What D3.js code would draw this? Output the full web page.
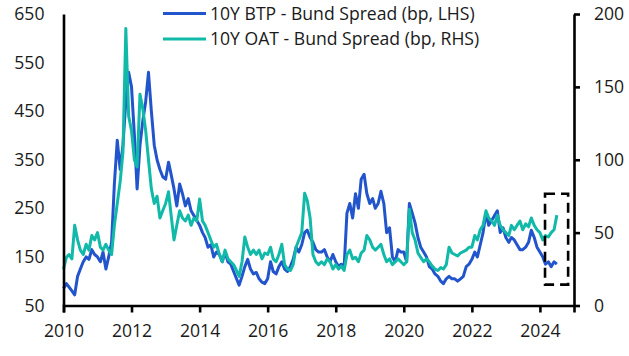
<!DOCTYPE html>
<html>
<head>
<meta charset="utf-8">
<script src="https://cdn.jsdelivr.net/npm/d3@7"></script>
<style>
  html, body { margin: 0; padding: 0; background: #fff; }
  svg { display: block; font-family: "Segoe UI", "Open Sans", "Noto Sans", sans-serif; }
</style>
</head>
<body>
<svg id="chart" width="629" height="356"></svg>
<script>
// Monthly observations, Jan 2010 .. Jul 2024
const startMonth = "2010-01";
const endMonth = "2024-07";

// 10Y BTP - Bund spread (bp), left axis
const btpSpread = [
  85, 95, 88, 80, 72, 110, 125, 140, 150, 145, 165, 155,      // 2010
  150, 140, 160, 125, 150, 180, 300, 390, 330, 380, 470, 530, // 2011
  500, 400, 290, 380, 430, 470, 530, 450, 380, 350, 330, 315, // 2012
  310, 345, 320, 290, 255, 300, 280, 255, 270, 245, 235, 225, // 2013
  215, 200, 190, 170, 175, 150, 160, 155, 140, 160, 140, 135, // 2014
  120, 105, 92, 110, 130, 145, 125, 115, 118, 105, 98, 95,    // 2015
  105, 140, 120, 115, 130, 140, 125, 120, 130, 145, 170, 160, // 2016
  175, 200, 205, 190, 180, 165, 160, 160, 165, 150, 140, 155, // 2017
  140, 130, 135, 130, 240, 260, 230, 280, 250, 310, 320, 280, // 2018
  260, 270, 250, 260, 285, 260, 200, 210, 150, 140, 165, 160, // 2019
  160, 140, 260, 240, 220, 190, 170, 160, 150, 130, 125, 115, // 2020
  110, 100, 95, 105, 110, 105, 105, 100, 105, 110, 130, 135,  // 2021
  145, 160, 150, 175, 200, 240, 215, 225, 235, 245, 200, 210, // 2022
  190, 180, 190, 185, 175, 165, 165, 170, 180, 205, 190, 170, // 2023
  160, 150, 135, 140, 130, 140, 135                           // 2024
];

// 10Y OAT - Bund spread (bp), right axis
const oatSpread = [
  25, 33, 35, 32, 55, 45, 38, 35, 42, 38, 48, 45,    // 2010
  50, 40, 38, 42, 38, 35, 55, 70, 85, 105, 190, 130, // 2011
  120, 100, 95, 145, 135, 120, 100, 80, 70, 75, 60, 65, // 2012
  70, 78, 62, 45, 55, 65, 60, 58, 62, 55, 60, 58,    // 2013
  73, 58, 55, 50, 45, 40, 42, 35, 30, 38, 32, 30,    // 2014
  28, 24, 20, 30, 47, 40, 35, 38, 35, 38, 32, 36,    // 2015
  35, 40, 32, 30, 35, 42, 28, 25, 24, 28, 40, 45,    // 2016
  50, 77, 72, 60, 35, 30, 28, 30, 28, 32, 30, 25,    // 2017
  28, 25, 27, 24, 35, 38, 32, 33, 30, 36, 38, 48,    // 2018
  45, 40, 38, 40, 42, 35, 30, 32, 28, 30, 32, 30,    // 2019
  28, 30, 66, 50, 45, 36, 33, 30, 32, 30, 27, 25,    // 2020
  24, 26, 25, 28, 40, 36, 35, 34, 36, 37, 38, 40,    // 2021
  40, 48, 45, 52, 55, 65, 60, 58, 55, 62, 55, 52,    // 2022
  50, 48, 55, 52, 55, 58, 52, 56, 54, 60, 55, 52,    // 2023
  50, 45, 48, 47, 50, 52, 62                         // 2024
];

const xTicks = [2010, 2012, 2014, 2016, 2018, 2020, 2022, 2024];
const leftTicks = [50, 150, 250, 350, 450, 550, 650];
const rightTicks = [0, 50, 100, 150, 200];
const seriesNames = ["10Y BTP - Bund Spread (bp, LHS)", "10Y OAT - Bund Spread (bp, RHS)"];
const seriesColors = ["#2255cc", "#10b9a8"];
// highlight box: date span and left-axis value span
const boxDates = ["2024-02-25", "2024-10-30"];
const boxValues = [93, 280];

const parseMonth = d3.timeParse("%Y-%m");
const parseDay = d3.timeParse("%Y-%m-%d");
const months = d3.timeMonth.range(parseMonth(startMonth), d3.timeMonth.offset(parseMonth(endMonth), 1));

const svg = d3.select("#chart");
const L = 63.5, R = 574, T = 14, B = 305.5;

const x = d3.scaleTime().domain([new Date(2010, 0, 1), new Date(2025, 0, 1)]).range([L, R]);
const yL = d3.scaleLinear().domain([50, 650]).range([B, T]);
const yR = d3.scaleLinear().domain([0, 200]).range([B, T]);

const fontSize = 17.6;

// Lines
const btpData = months.map((d, i) => ({ d, v: btpSpread[i] }));
const oatData = months.map((d, i) => ({ d, v: oatSpread[i] }));

svg.append("path").datum(btpData)
  .attr("fill", "none").attr("stroke", seriesColors[0]).attr("stroke-width", 3)
  .attr("stroke-linejoin", "round")
  .attr("d", d3.line().x(p => x(p.d)).y(p => yL(p.v)));

svg.append("path").datum(oatData)
  .attr("fill", "none").attr("stroke", seriesColors[1]).attr("stroke-width", 3)
  .attr("stroke-linejoin", "round")
  .attr("d", d3.line().x(p => x(p.d)).y(p => yR(p.v)));

// Highlight box
svg.append("rect")
  .attr("x", x(parseDay(boxDates[0])))
  .attr("y", yL(boxValues[1]))
  .attr("width", x(parseDay(boxDates[1])) - x(parseDay(boxDates[0])))
  .attr("height", yL(boxValues[0]) - yL(boxValues[1]))
  .attr("fill", "none").attr("stroke", "#000").attr("stroke-width", 2.6)
  .attr("stroke-dasharray", "10,6");

// Axes
const gx = svg.append("g").attr("transform", `translate(0,${B})`)
  .call(d3.axisBottom(x).tickValues(xTicks.map(y => new Date(y, 0, 1)))
    .tickFormat(d3.timeFormat("%Y")).tickSizeOuter(0).tickSize(7).tickPadding(12));
const gl = svg.append("g").attr("transform", `translate(${L},0)`)
  .call(d3.axisLeft(yL).tickValues(leftTicks).tickSize(0).tickSizeOuter(0).tickPadding(19));
const gr = svg.append("g").attr("transform", `translate(${R},0)`)
  .call(d3.axisRight(yR).tickValues(rightTicks).tickSize(6).tickSizeOuter(0).tickPadding(14));

[gx, gl, gr].forEach(g => {
  g.select(".domain").attr("stroke", "#000").attr("stroke-width", 2.6);
  g.selectAll(".tick line").attr("stroke", "#000").attr("stroke-width", 2.6);
  g.selectAll("text").attr("font-size", fontSize).attr("fill", "#1a1a1a")
    .style("font-family", '"Segoe UI", "Open Sans", "Noto Sans", sans-serif');
});

// Legend
const legend = svg.append("g");
seriesNames.forEach((name, i) => {
  const yy = 13.5 + i * 25.5;
  legend.append("line").attr("x1", 163).attr("x2", 206).attr("y1", yy).attr("y2", yy)
    .attr("stroke", seriesColors[i]).attr("stroke-width", 3);
  legend.append("text").attr("x", 210).attr("y", yy).attr("dy", "0.35em")
    .attr("font-size", fontSize).attr("fill", "#1a1a1a").text(name);
});
</script>
</body>
</html>
